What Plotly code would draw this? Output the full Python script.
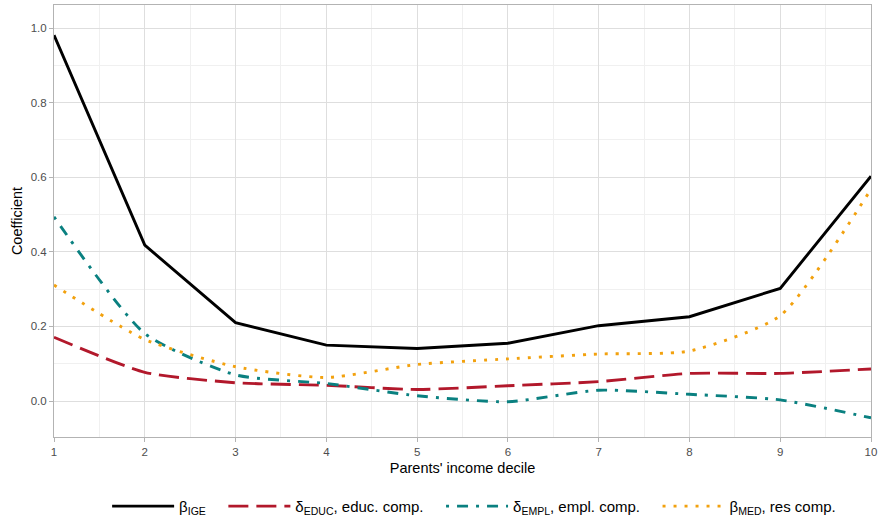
import plotly.graph_objects as go

# Parents' income decile
deciles = [1, 2, 3, 4, 5, 6, 7, 8, 9, 10]

# Coefficients by decile
beta_ige = [0.981, 0.418, 0.210, 0.150, 0.141, 0.155, 0.202, 0.226, 0.302, 0.603]
delta_educ = [0.171, 0.077, 0.049, 0.042, 0.031, 0.041, 0.052, 0.074, 0.074, 0.086]
delta_empl = [0.494, 0.181, 0.070, 0.047, 0.014, -0.002, 0.029, 0.018, 0.003, -0.045]
beta_med = [0.311, 0.165, 0.092, 0.063, 0.098, 0.113, 0.126, 0.134, 0.229, 0.568]

# Legend labels (trailing no-break spaces widen the gap between entries)
gap = "\u00a0\u00a0\u00a0"
series = [
    ("β<sub>IGE</sub>" + gap, beta_ige, "#000000", "solid", "linear"),
    ("δ<sub>EDUC</sub>, educ. comp." + gap, delta_educ, "#B2182B", "20px,8px", "spline"),
    ("δ<sub>EMPL</sub>, empl. comp." + gap, delta_empl, "#0A8080", "3px,8px,11px,8px", "spline"),
    ("β<sub>MED</sub>, res comp.", beta_med, "#F2A10E", "3px,8px", "spline"),
]

fig = go.Figure()
for name, vals, color, dash, shape in series:
    fig.add_trace(go.Scatter(
        x=deciles, y=vals, mode="lines", name=name,
        line=dict(color=color, width=2.9, dash=dash, shape=shape, smoothing=0.6),
    ))

axis_common = dict(
    showline=True, linecolor="#b3b3b3", linewidth=1, mirror=True,
    ticks="outside", ticklen=4, tickcolor="#b3b3b3", tickwidth=1,
    gridcolor="#dedede", gridwidth=1, zeroline=False, automargin=False,
    tickfont=dict(family="Liberation Sans", size=11.5, color="#4d4d4d"),
)

fig.update_xaxes(
    range=[1, 10], tickmode="array", tickvals=deciles,
    title=dict(text="Parents' income decile", font=dict(size=14.5, color="#000000"), standoff=6),
    minor=dict(showgrid=True, gridcolor="#f0f0f0", gridwidth=1, dtick=0.5, tick0=1),
    **axis_common,
)
fig.update_yaxes(
    range=[-0.0965, 1.062], tickmode="array", tickvals=[0, 0.2, 0.4, 0.6, 0.8, 1.0],
    ticktext=["0.0", "0.2", "0.4", "0.6", "0.8", "1.0"],
    title=dict(text="Coefficient", font=dict(size=14.5, color="#000000"), standoff=4),
    minor=dict(showgrid=True, gridcolor="#f0f0f0", gridwidth=1, tickvals=[-0.1, 0.1, 0.3, 0.5, 0.7, 0.9]),
    **axis_common,
)

fig.update_layout(
    width=878, height=520,
    margin=dict(l=54, r=7, t=5, b=83),
    plot_bgcolor="white", paper_bgcolor="white",
    font=dict(family="Liberation Sans", size=14, color="#000000"),
    legend=dict(
        orientation="h", x=0.54, xanchor="center", xref="container",
        y=0.058, yanchor="top", yref="container",
        font=dict(size=15), itemwidth=62, tracegroupgap=0,
    ),
)

fig.write_html("out.html")
